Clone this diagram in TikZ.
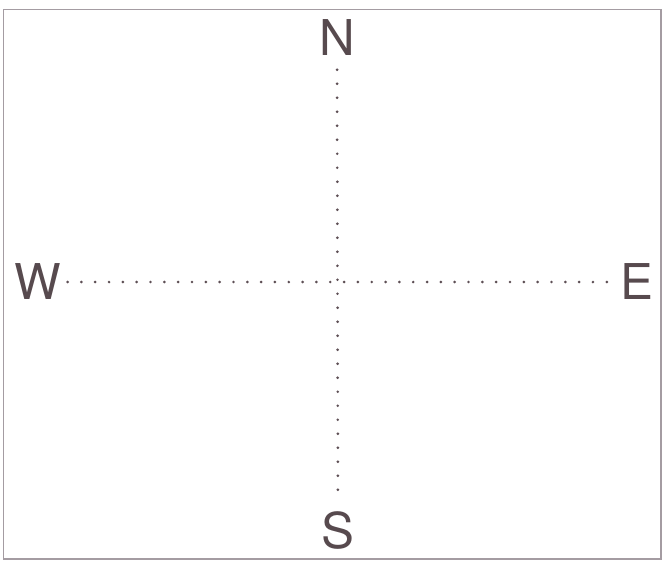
\documentclass[tikz,border=0pt]{standalone}
\usepackage{fontspec}
\setmainfont{TeX Gyre Heros}
\usepackage{xcolor}
\usepackage{tikz}
\usetikzlibrary{positioning}

\definecolor{inkgray}{HTML}{574A4E}
\definecolor{dotgray}{HTML}{5E4F55}
\definecolor{framegray}{HTML}{A49CA2}

\tikzset{
  compass/.style={font=\fontsize{37}{40}\selectfont, text=inkgray, inner sep=0pt, text depth=0pt},
  dotline/.style={draw=dotgray, line width=2.2pt, line cap=round}
}

\begin{document}
\begin{tikzpicture}[x=0.75pt, y=-0.75pt]
  % Canvas and frame
  \useasboundingbox (0,0) rectangle (665,561);
  \draw[framegray, line width=1.1pt] (3.5,9.5) rectangle (661,559);

  % Compass letters
  \node[compass] (N) at (337,37.5) {N};
  \node[compass] (S) at (338,530.5) {S};
  \node[compass] (W) at (38,282) {W};
  \node[compass] (E) at (637,282) {E};

  % Dotted axes
  \draw[dotline, dash pattern=on 0pt off 10.5pt, shorten <=10.5pt, shorten >=15pt] (N) -- (S);
  \draw[dotline, dash pattern=on 0pt off 10.37pt, shorten <=4.5pt, shorten >=9pt] (W) -- (E);
\end{tikzpicture}
\end{document}
